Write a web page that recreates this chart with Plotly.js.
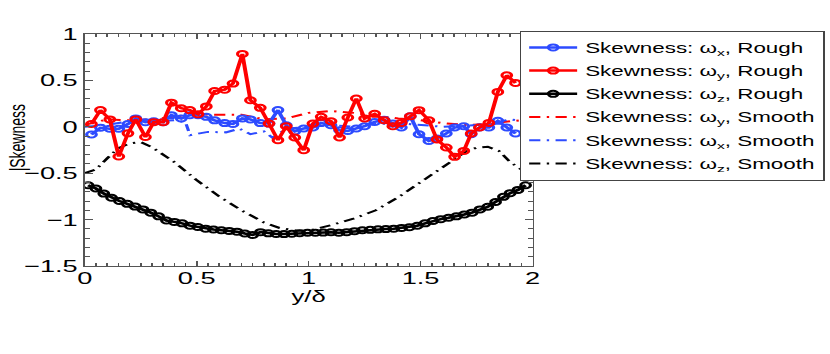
<!DOCTYPE html>
<html>
<head>
<meta charset="utf-8">
<script src="https://cdn.plot.ly/plotly-3.0.1.min.js"></script>
<style>
  html, body { margin: 0; padding: 0; overflow: hidden; background: #fff; }
  /* the original figure is stretched sideways, so draw narrow and widen it */
  #plot { width: 519px; height: 354px; transform: scaleX(1.5992); transform-origin: 0 0; }
</style>
</head>
<body>
<div id="plot"></div>
<script>
// wall distance y/delta for the rough cases (omega_x, omega_y)
const roughPos = [0.03,0.07,0.112,0.152,0.193,0.228,0.271,0.308,0.35,0.387,0.431,0.469,0.506,0.543,0.58,0.625,0.662,0.704,0.74,0.784,0.823,0.863,0.9,0.938,0.978,1.019,1.056,1.1,1.138,1.175,1.213,1.25,1.295,1.337,1.376,1.414,1.454,1.493,1.537,1.573,1.615,1.652,1.693,1.726,1.763,1.805,1.845,1.885,1.924];
const skewXRough = [-0.083,-0.01,-0.02,-0.02,0.03,0.09,0.05,0.06,0.05,0.125,0.09,0.125,0.125,0.107,0.07,0.04,0.03,0.09,0.08,0.04,0.035,0.18,0.017,-0.05,-0.018,-0.008,0.042,0.017,-0.037,-0.044,-0.018,0.006,0.053,0.075,0.035,-0.008,0.114,-0.08,-0.152,-0.126,-0.072,-0.008,0.006,-0.08,-0.008,-0.008,0.064,-0.008,-0.072];
const skewYRough = [0.03,0.18,0.08,-0.32,-0.07,0.08,-0.11,0.05,0.05,0.26,0.2,0.18,0.135,0.22,0.386,0.4,0.466,0.785,0.286,0.204,0.035,-0.144,0.006,-0.115,-0.252,0.035,0.107,0.06,-0.115,0.1,0.305,0.089,0.14,0.071,0.006,0.042,0.114,0.179,0.071,-0.137,-0.223,-0.324,-0.26,-0.072,-0.008,0.042,0.376,0.555,0.473];

// omega_z rough has a finer spacing
const zRoughPos = [0.015,0.05,0.085,0.12,0.155,0.19,0.225,0.26,0.295,0.33,0.365,0.4,0.435,0.47,0.505,0.54,0.575,0.61,0.645,0.68,0.715,0.75,0.785,0.82,0.855,0.89,0.925,0.96,0.995,1.03,1.065,1.1,1.135,1.17,1.205,1.24,1.275,1.31,1.345,1.38,1.415,1.45,1.485,1.52,1.555,1.59,1.625,1.66,1.695,1.73,1.765,1.8,1.835,1.87,1.9,1.935,1.969];
const skewZRough = [-0.63,-0.665,-0.72,-0.765,-0.8,-0.83,-0.86,-0.89,-0.925,-0.965,-1.01,-1.025,-1.04,-1.065,-1.08,-1.098,-1.107,-1.115,-1.122,-1.13,-1.15,-1.165,-1.135,-1.148,-1.155,-1.156,-1.152,-1.146,-1.142,-1.142,-1.14,-1.136,-1.142,-1.135,-1.125,-1.115,-1.11,-1.105,-1.102,-1.098,-1.09,-1.082,-1.066,-1.04,-1.015,-0.995,-0.98,-0.965,-0.945,-0.925,-0.89,-0.862,-0.81,-0.755,-0.715,-0.68,-0.63];

// smooth wall cases
const ySmoothPos = [0,0.1,0.2,0.3,0.4,0.5,0.6,0.7,0.8,0.9,1.0,1.1,1.2,1.3,1.4,1.5,1.6,1.7,1.8,1.9,2.0];
const skewYSmooth = [0.02,0.08,0.07,0.08,0.11,0.135,0.13,0.13,0.08,0.09,0.15,0.17,0.15,0.12,0.09,0.07,0.04,0.02,0.03,0.06,0.08];

const xSmoothPos = [0,0.1,0.2,0.3,0.4,0.45,0.47,0.55,0.63,0.69,0.74,0.8,0.84,0.9,1.0,1.1,1.2,1.3,1.4,1.5,1.6,1.7,1.8,1.9,2.0];
const skewXSmooth = [0.0,0.02,0.06,0.06,0.07,0.05,-0.09,-0.055,-0.06,-0.02,-0.08,-0.05,-0.12,-0.02,0.0,0.02,0.0,0.03,0.04,0.02,0.0,0.01,0.03,0.08,0.05];

const zSmoothPos = [0,0.05,0.1,0.15,0.2,0.25,0.3,0.4,0.5,0.6,0.7,0.8,0.87,0.95,1.0,1.1,1.2,1.3,1.4,1.5,1.6,1.7,1.75,1.8,1.85,1.9,1.95,2.0];
const skewZSmooth = [-0.5,-0.46,-0.34,-0.23,-0.18,-0.165,-0.22,-0.38,-0.575,-0.75,-0.9,-1.03,-1.09,-1.12,-1.12,-1.06,-0.99,-0.9,-0.76,-0.6,-0.44,-0.27,-0.225,-0.215,-0.26,-0.38,-0.46,-0.5];

const BLUE = '#2d4bff';
const RED = '#ff0000';
const BLACK = '#000000';
const dashDot = '7px,4px,1.5px,4px';

function rough(x, y, color, name, rank) {
    return {
        x: x, y: y, name: name, type: 'scatter', mode: 'lines+markers',
        legendrank: rank, legendgroup: 'g' + rank,
        line: { color: color, width: 2.5 },
        marker: { symbol: 'circle-open', size: 6, color: color, line: { width: 2, color: color } }
    };
}

function smooth(x, y, color, name, rank) {
    return {
        x: x, y: y, name: name, type: 'scatter', mode: 'lines',
        legendrank: rank, legendgroup: 'g' + rank,
        line: { color: color, width: 2, dash: dashDot }
    };
}

const traces = [
    smooth(ySmoothPos, skewYSmooth, RED, 'Skewness: ω<sub>y</sub>, Smooth', 4),
    smooth(xSmoothPos, skewXSmooth, BLUE, 'Skewness: ω<sub>x</sub>, Smooth', 5),
    smooth(zSmoothPos, skewZSmooth, BLACK, 'Skewness: ω<sub>z</sub>, Smooth', 6),
    rough(zRoughPos, skewZRough, BLACK, 'Skewness: ω<sub>z</sub>, Rough', 3),
    rough(roughPos, skewXRough, BLUE, 'Skewness: ω<sub>x</sub>, Rough', 1),
    rough(roughPos, skewYRough, RED, 'Skewness: ω<sub>y</sub>, Rough', 2)
];

const axisCommon = {
    showgrid: false, zeroline: false,
    showline: true, linecolor: '#555', linewidth: 1, mirror: 'allticks',
    ticks: 'inside', ticklen: 5, tickcolor: '#555', tickwidth: 1,
    tickfont: { family: 'Liberation Sans, Arial, sans-serif', size: 17, color: '#000' }
};

const layout = {
    width: 519, height: 354,
    margin: { l: 53, r: 186, t: 34, b: 88, autoexpand: false },
    paper_bgcolor: '#fff', plot_bgcolor: '#fff',
    showlegend: true,
    font: { family: 'Liberation Sans, Arial, sans-serif', color: '#000' },
    xaxis: Object.assign({}, axisCommon, {
        range: [0, 2], dtick: 0.5, tick0: 0, ticklabelstandoff: -3,
        minor: { dtick: 0.05, ticks: 'inside', ticklen: 3, tickcolor: '#555' },
        title: { text: 'y/δ', font: { size: 16 }, standoff: 2 }
    }),
    yaxis: Object.assign({}, axisCommon, {
        range: [-1.5, 1], dtick: 0.5, tick0: 0,
        minor: { dtick: 0.1, ticks: 'inside', ticklen: 3, tickcolor: '#555' }
    }),
    legend: {
        xref: 'container', yref: 'container',
        x: 0.626, xanchor: 'left', y: 0.913, yanchor: 'top',
        bgcolor: '#fff', bordercolor: '#444', borderwidth: 1,
        font: { size: 14 }, tracegroupgap: 2, itemwidth: 30
    },
    annotations: [{
        text: '|Skewness', textangle: -90, showarrow: false,
        xref: 'paper', yref: 'paper', x: -0.15, y: 0.55,
        xanchor: 'center', yanchor: 'middle',
        font: { size: 14 }
    }]
};

Plotly.newPlot('plot', traces, layout, { displayModeBar: false, staticPlot: true });
</script>
</body>
</html>
